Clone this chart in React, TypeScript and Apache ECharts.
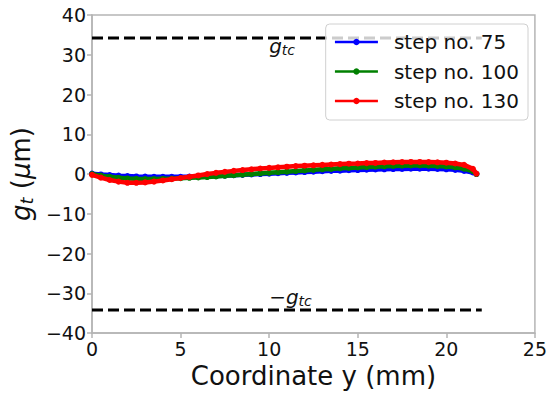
import React, { useEffect, useRef } from "react";
import * as echarts from "echarts";

const xs = [0, 0.5, 1, 1.5, 2, 2.5, 3, 3.5, 4, 4.5, 5, 5.5, 6, 6.5, 7, 7.5, 8, 8.5, 9, 9.5, 10, 10.5, 11, 11.5, 12, 12.5, 13, 13.5, 14, 14.5, 15, 15.5, 16, 16.5, 17, 17.5, 18, 18.5, 19, 19.5, 20, 20.5, 21, 21.5, 21.7];

const step75 = [0.1, -0.1, -0.25, -0.4, -0.5, -0.6, -0.65, -0.7, -0.7, -0.7, -0.7, -0.65, -0.6, -0.55, -0.5, -0.4, -0.3, -0.2, -0.1, 0.0, 0.1, 0.2, 0.3, 0.4, 0.5, 0.6, 0.7, 0.8, 0.85, 0.95, 1.0, 1.1, 1.15, 1.2, 1.25, 1.3, 1.35, 1.35, 1.35, 1.3, 1.2, 1.05, 0.8, 0.4, 0.0];

const step100 = [0, -0.4, -0.7, -0.95, -1.1, -1.2, -1.25, -1.25, -1.2, -1.15, -1.05, -0.95, -0.85, -0.75, -0.6, -0.45, -0.3, -0.15, 0.0, 0.15, 0.3, 0.45, 0.6, 0.75, 0.9, 1.05, 1.2, 1.3, 1.45, 1.55, 1.65, 1.75, 1.85, 1.95, 2.05, 2.1, 2.15, 2.15, 2.1, 2.05, 1.9, 1.7, 1.35, 0.7, 0.0];

const step130 = [-0.2, -0.9, -1.5, -1.9, -2.2, -2.2, -2.1, -1.9, -1.6, -1.3, -1.0, -0.7, -0.35, 0.0, 0.3, 0.55, 0.8, 1.0, 1.2, 1.4, 1.55, 1.7, 1.85, 2.0, 2.1, 2.2, 2.3, 2.4, 2.5, 2.6, 2.65, 2.75, 2.8, 2.9, 2.95, 3.0, 3.05, 3.05, 3.0, 2.95, 2.85, 2.65, 2.3, 1.3, 0.1];

const seriesNames = ["step no. 75", "step no. 100", "step no. 130"];
const seriesColors = ["#0000ff", "#008000", "#ff0000"];
const seriesValues = [step75, step100, step130];

const gtc = 34.2;
const gtcExtent = [0, 22];
const gtcLabelX = 10;
const gtcLabelY = [32.3, -30.8];

const xTicks = { min: 0, max: 25, interval: 5 };
const yTicks = { min: -40, max: 40, interval: 10 };

const FONT = "DejaVu Sans";
const TXT = "#111111";
const SPINE = "#b5b5b5";

const fmt = (v: number) => String(v).replace("-", "\u2212");

export default function App() {
  const ref = useRef<HTMLDivElement>(null);
  useEffect(() => {
    if (!ref.current) return;
    const chart = echarts.init(ref.current, undefined, { renderer: "svg" });
    const lineSeries = seriesNames.map((name, i) => ({
      name,
      type: "line",
      data: xs.map((x, j) => [x, seriesValues[i][j]]),
      color: seriesColors[i],
      symbol: "circle",
      symbolSize: 6,
      showSymbol: true,
      lineStyle: { width: 4.5, color: seriesColors[i] },
      itemStyle: { color: seriesColors[i] },
      z: 3 + i,
    }));
    const dashSeries = [gtc, -gtc].map((v) => ({
      type: "line",
      data: gtcExtent.map((x) => [x, v]),
      symbol: "none",
      lineStyle: { color: "#000", width: 3, type: [11, 5] },
      z: 2,
      silent: true,
    }));
    const labelSeries = {
      type: "scatter",
      symbolSize: 0,
      silent: true,
      data: [
        { value: [gtcLabelX, gtcLabelY[0]], label: { formatter: "{g|g}{s|tc}" } },
        { value: [gtcLabelX, gtcLabelY[1]], label: { formatter: "{m|\u2212}{g|g}{s|tc}" } },
      ],
      label: {
        show: true,
        position: "right",
        distance: 0,
        color: TXT,
        opacity: 1,
        fontFamily: FONT,
        rich: {
          g: { fontStyle: "italic", fontSize: 20, color: TXT, fontFamily: FONT },
          m: { fontSize: 20, color: TXT, fontFamily: FONT },
          s: { fontStyle: "italic", fontSize: 14, color: TXT, fontFamily: FONT, padding: [8, 0, 0, 0] },
        },
      },
      z: 10,
    };
    chart.setOption({
      animation: false,
      grid: {
        left: 92,
        right: 12,
        top: 15,
        bottom: 57,
        show: true,
        borderColor: SPINE,
        borderWidth: 1.5,
        backgroundColor: "transparent",
      },
      legend: {
        data: seriesNames,
        orient: "vertical",
        right: 22,
        top: 24,
        itemWidth: 43,
        itemHeight: 8,
        itemGap: 9.5,
        padding: [8, 9, 9, 8],
        backgroundColor: "rgba(255,255,255,0.8)",
        borderColor: "#d0d0d0",
        borderWidth: 1,
        borderRadius: 4,
        lineStyle: { width: 2.5 },
        textStyle: {
          fontFamily: FONT,
          fontSize: 20,
          lineHeight: 20,
          color: TXT,
          padding: [0, 0, 0, 11],
        },
      },
      xAxis: {
        type: "value",
        min: xTicks.min,
        max: xTicks.max,
        interval: xTicks.interval,
        name: "Coordinate y (mm)",
        nameLocation: "middle",
        nameGap: 25,
        nameTextStyle: { fontFamily: FONT, fontSize: 26, color: TXT },
        axisLine: { show: true, onZero: false, lineStyle: { color: SPINE, width: 1.5 } },
        axisTick: { show: true, length: 5, lineStyle: { color: SPINE, width: 1.5 } },
        axisLabel: { fontFamily: FONT, fontSize: 19, color: TXT, margin: 6, formatter: fmt },
        splitLine: { show: false },
      },
      yAxis: {
        type: "value",
        min: yTicks.min,
        max: yTicks.max,
        interval: yTicks.interval,
        name: "{g|g}{t|t} ({g|\u03bc}m)",
        nameLocation: "middle",
        nameGap: 52,
        nameRotate: 90,
        nameTextStyle: {
          fontFamily: FONT,
          fontSize: 26,
          color: TXT,
          rich: {
            g: { fontStyle: "italic", fontSize: 26, color: TXT, fontFamily: FONT },
            t: { fontStyle: "italic", fontSize: 18, color: TXT, fontFamily: FONT, padding: [10, 0, 0, 0] },
          },
        },
        axisLine: { show: true, onZero: false, lineStyle: { color: SPINE, width: 1.5 } },
        axisTick: { show: true, length: 5, lineStyle: { color: SPINE, width: 1.5 } },
        axisLabel: { fontFamily: FONT, fontSize: 19, color: TXT, margin: 6, formatter: fmt },
        splitLine: { show: false },
      },
      series: [...dashSeries, ...lineSeries, labelSeries],
    });
    return () => chart.dispose();
  }, []);
  return <div ref={ref} style={{ width: 550, height: 394, position: "absolute", left: 0, top: 0 }} />;
}
